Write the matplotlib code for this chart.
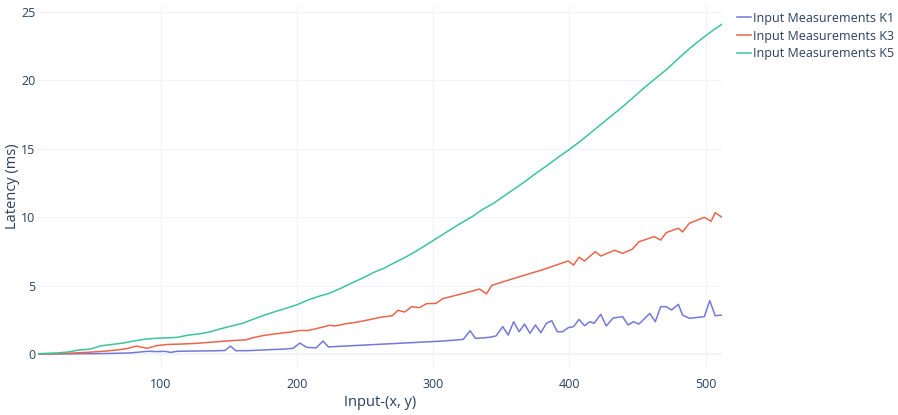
import matplotlib
matplotlib.use("Agg")
import matplotlib.pyplot as plt

# K5 measurements
k5_x = [10, 16, 24, 32, 40, 48, 56, 64, 72, 80, 88, 96, 104, 112, 120, 128,
        136, 144, 152, 160, 168, 176, 184, 192, 200, 208, 216, 224, 232, 240,
        248, 256, 264, 272, 280, 288, 296, 304, 312, 320, 328, 336, 344, 352,
        360, 368, 376, 384, 392, 400, 408, 416, 424, 432, 440, 448, 456, 464,
        472, 480, 488, 496, 504, 512]
k5_y = [0.03, 0.05, 0.08, 0.15, 0.3, 0.36, 0.6, 0.7, 0.8, 0.95, 1.08, 1.15,
        1.18, 1.22, 1.38, 1.47, 1.62, 1.85, 2.05, 2.25, 2.55, 2.85, 3.1, 3.35,
        3.6, 3.95, 4.22, 4.45, 4.8, 5.18, 5.55, 5.95, 6.28, 6.7, 7.1, 7.55,
        8.05, 8.55, 9.05, 9.55, 10.0, 10.55, 11.0, 11.55, 12.1, 12.65, 13.25,
        13.8, 14.4, 14.95, 15.55, 16.2, 16.85, 17.5, 18.15, 18.85, 19.55, 20.2,
        20.85, 21.6, 22.3, 22.95, 23.55, 24.1]

# K3 measurements
k3_x = [10, 20, 33, 45, 53, 60, 68, 75, 82, 86, 90, 97, 105, 115, 126, 135,
        145, 155, 162, 168, 175, 182, 190, 196, 202, 208, 215, 224, 228, 235,
        245, 255, 262, 270, 274, 279, 284, 290, 295, 302, 307, 315, 325, 334,
        339, 343, 360, 380, 399, 403, 407, 411, 419, 423, 433, 439, 446, 451,
        462, 467, 471, 480, 483, 488, 499, 504, 507, 512]
k3_y = [0.0, 0.02, 0.06, 0.12, 0.17, 0.22, 0.3, 0.4, 0.58, 0.5, 0.42, 0.62,
        0.7, 0.73, 0.78, 0.85, 0.93, 1.0, 1.03, 1.2, 1.35, 1.45, 1.55, 1.62,
        1.72, 1.72, 1.88, 2.1, 2.05, 2.2, 2.35, 2.55, 2.7, 2.8, 3.2, 3.07,
        3.46, 3.39, 3.68, 3.7, 4.05, 4.25, 4.5, 4.75, 4.4, 5.02, 5.55, 6.15,
        6.8, 6.5, 7.07, 6.8, 7.48, 7.16, 7.58, 7.36, 7.65, 8.2, 8.58, 8.33,
        8.87, 9.19, 8.92, 9.55, 9.99, 9.7, 10.33, 9.99]

# K1 measurements
k1_x = [10, 20, 40, 53, 65, 77, 85, 90, 97, 103, 107, 112, 125, 140, 147, 151,
        155, 165, 180, 190, 197, 202, 207, 214, 219, 223, 307, 322, 327, 331,
        341, 346, 351, 355, 359, 363, 367, 371, 375, 379, 383, 387, 391, 395,
        399, 403, 407, 411, 415, 418, 423, 427, 432, 439, 443, 447, 451, 459,
        463, 467, 471, 475, 480, 483, 488, 499, 503, 507, 512]
k1_y = [0.0, 0.0, 0.02, 0.03, 0.05, 0.08, 0.15, 0.2, 0.18, 0.2, 0.12, 0.2,
        0.22, 0.24, 0.26, 0.58, 0.24, 0.25, 0.32, 0.36, 0.42, 0.8, 0.49, 0.45,
        0.95, 0.52, 0.95, 1.07, 1.7, 1.14, 1.22, 1.32, 2.0, 1.39, 2.36, 1.63,
        2.19, 1.51, 2.12, 1.56, 2.24, 2.43, 1.63, 1.63, 1.92, 2.0, 2.53, 2.07,
        2.36, 2.24, 2.9, 2.05, 2.63, 2.73, 2.12, 2.36, 2.19, 2.97, 2.36, 3.46,
        3.46, 3.22, 3.63, 2.85, 2.61, 2.73, 3.9, 2.8, 2.85]

labels = ['Input Measurements K1', 'Input Measurements K3', 'Input Measurements K5']
colors = ['#7479d8', '#e9664d', '#3cc49b']

text_color = '#2a3f5f'
grid_color = '#F1F3F8'
plt.rcParams['font.family'] = ['Open Sans', 'DejaVu Sans']

fig = plt.figure(figsize=(8.98, 4.15), dpi=100)
ax = fig.add_axes([38 / 898, 47 / 415, 684 / 898, 363 / 415])

for xs, ys, lab, col in zip([k1_x, k3_x, k5_x], [k1_y, k3_y, k5_y], labels, colors):
    ax.plot(xs, ys, color=col, linewidth=1.1, label=lab)

ax.set_xlim(9.7, 512)
ax.set_ylim(-1.02, 25.5)
ax.set_xticks([100, 200, 300, 400, 500])
ax.set_yticks([0, 5, 10, 15, 20, 25])

for s in ax.spines.values():
    s.set_visible(False)
ax.grid(True, color=grid_color, linewidth=0.8)
ax.axhline(0, color=grid_color, linewidth=1.5, zorder=0)
ax.set_axisbelow(True)
ax.tick_params(length=0, labelsize=9, colors=text_color)
ax.tick_params(axis='y', pad=2)
ax.tick_params(axis='x', pad=7)

ax.set_xlabel('Input-(x, y)', fontsize=10.5, color=text_color, labelpad=3)
ax.set_ylabel('Latency (ms)', fontsize=10.5, color=text_color, labelpad=1)

ax.legend(loc='upper left', bbox_to_anchor=(1.012, 1.0), frameon=False,
          fontsize=9, labelcolor=text_color, handlelength=1.1, handletextpad=0.15,
          labelspacing=0.38, borderaxespad=0.15)

plt.savefig('out.png', dpi=100)
plt.close()
